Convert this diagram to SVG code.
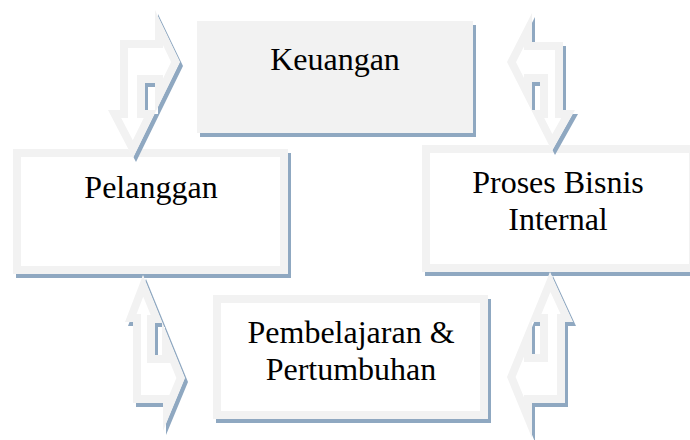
<svg xmlns="http://www.w3.org/2000/svg" width="690" height="440" viewBox="0 0 690 440">
<style>
.sh{fill:#8FA8C1}
.box{fill:#FFFFFF;stroke:#F2F2F2;stroke-width:8}
.arr{fill:#FFFFFF;stroke:#F2F2F2;stroke-width:16}
.t{font-family:"Liberation Serif","Times New Roman",serif;font-size:32px;fill:#000;text-anchor:middle}
</style>
<defs>
<path id="a1" fill-rule="evenodd" clip-rule="evenodd" d="M155,10 L180,62 L133,158 L108,110 L120,110 L120,40 L155,40 Z M145,83 H155 V110 H145 Z"/>
<path id="a2" fill-rule="evenodd" clip-rule="evenodd" d="M532,13 L532,42 L563,42 L563,110 L575,110 L552,151 L507,62 Z M532,82 H540 V110 H532 Z"/>
<path id="a3" fill-rule="evenodd" clip-rule="evenodd" d="M143,275 L185,378 L163,431 L163,403 L133,403 L133,322 L125,322 Z M155,323 H162 V355 H155 Z"/>
<path id="a4" fill-rule="evenodd" clip-rule="evenodd" d="M550,272 L573,322 L565,322 L565,403 L532,403 L532,438 L507,377 Z M532,322 H540 V354 H532 Z"/>
<clipPath id="c1"><use href="#a1"/></clipPath>
<clipPath id="c2"><use href="#a2"/></clipPath>
<clipPath id="c3"><use href="#a3"/></clipPath>
<clipPath id="c4"><use href="#a4"/></clipPath>
</defs>
<rect width="690" height="440" fill="#FFFFFF"/>
<g id="keuangan">
<rect class="sh" x="200" y="25" width="276" height="112"/>
<rect x="197" y="21" width="276" height="112" fill="#F2F2F2"/>
<text class="t" x="335" y="70">Keuangan</text>
</g>
<g id="pelanggan">
<rect class="sh" x="16" y="153" width="275" height="125"/>
<rect class="box" x="17" y="153" width="267" height="117"/>
<text class="t" x="151" y="198">Pelanggan</text>
</g>
<g id="proses-bisnis-internal">
<rect class="sh" x="425" y="149" width="275" height="127"/>
<rect class="box" x="426" y="149" width="267" height="119"/>
<text class="t" x="558" y="193">Proses Bisnis</text>
<text class="t" x="558" y="230">Internal</text>
</g>
<g id="pembelajaran-pertumbuhan">
<rect class="sh" x="216" y="299" width="275" height="124"/>
<rect class="box" x="217" y="299" width="267" height="116"/>
<text class="t" x="351" y="343">Pembelajaran &amp;</text>
<text class="t" x="351" y="380">Pertumbuhan</text>
</g>
<g id="connectors">
<use href="#a1" class="sh" transform="translate(3,4)"/>
<use href="#a2" class="sh" transform="translate(3,4)"/>
<use href="#a3" class="sh" transform="translate(3,4)"/>
<use href="#a4" class="sh" transform="translate(3,4)"/>
<use href="#a1" class="arr" clip-path="url(#c1)"/>
<use href="#a2" class="arr" clip-path="url(#c2)"/>
<use href="#a3" class="arr" clip-path="url(#c3)"/>
<use href="#a4" class="arr" clip-path="url(#c4)"/>
</g>
</svg>
